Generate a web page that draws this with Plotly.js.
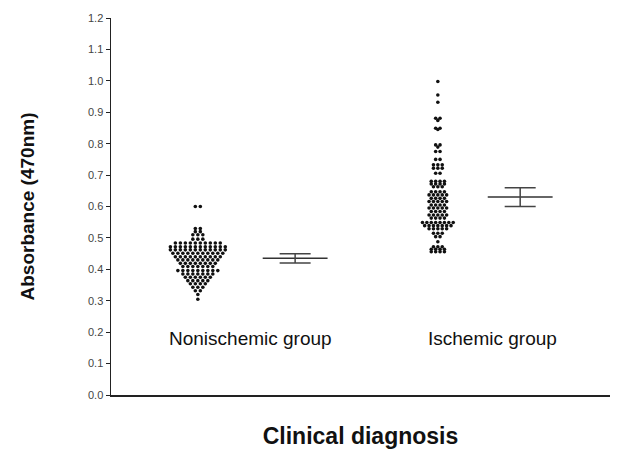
<!DOCTYPE html>
<html>
<head>
<meta charset="utf-8">
<script src="https://cdn.plot.ly/plotly-3.0.1.min.js"></script>
<style>
  html, body { margin: 0; padding: 0; background: #fff; }
  #chart { width: 642px; height: 456px; }
</style>
</head>
<body>
<div id="chart"></div>
<script>
// ---- Data ----
const groupNames = ['Nonischemic group', 'Ischemic group'];

const nonischemicValues = [
  0.600, 0.600,
  0.530, 0.530,
  0.520, 0.520,
  0.510, 0.510, 0.510,
  0.496, 0.496, 0.496,
  0.484, 0.484, 0.484, 0.484, 0.484, 0.484, 0.484, 0.484, 0.484, 0.484,
  0.472, 0.472, 0.472, 0.472, 0.472, 0.472, 0.472, 0.472, 0.472, 0.472, 0.472, 0.472,
  0.462, 0.462, 0.462, 0.462, 0.462, 0.462, 0.462, 0.462, 0.462, 0.462, 0.462, 0.462,
  0.451, 0.451, 0.451, 0.451, 0.451, 0.451, 0.451, 0.451, 0.451, 0.451, 0.451,
  0.440, 0.440, 0.440, 0.440, 0.440, 0.440, 0.440, 0.440, 0.440, 0.440,
  0.430, 0.430, 0.430, 0.430, 0.430, 0.430, 0.430, 0.430, 0.430,
  0.419, 0.419, 0.419, 0.419, 0.419, 0.419, 0.419, 0.419,
  0.409, 0.409, 0.409, 0.409, 0.409, 0.409, 0.409,
  0.396, 0.396, 0.396, 0.396, 0.396, 0.396, 0.396, 0.396, 0.396,
  0.385, 0.385, 0.385, 0.385, 0.385, 0.385, 0.385,
  0.375, 0.375, 0.375, 0.375, 0.375, 0.375,
  0.364, 0.364, 0.364, 0.364, 0.364,
  0.354, 0.354, 0.354, 0.354,
  0.343, 0.343, 0.343,
  0.332, 0.332,
  0.320,
  0.305
];

const ischemicValues = [
  0.998, 0.955, 0.932,
  0.881, 0.881, 0.874,
  0.849, 0.849, 0.845,
  0.796, 0.796, 0.789,
  0.775, 0.775,
  0.750, 0.750,
  0.733, 0.733, 0.733,
  0.722, 0.722, 0.722,
  0.706, 0.706,
  0.680, 0.680, 0.680, 0.680,
  0.672, 0.672, 0.672, 0.672,
  0.663, 0.663, 0.663,
  0.647, 0.647, 0.647, 0.647,
  0.637, 0.637, 0.637, 0.637, 0.637,
  0.626, 0.626, 0.626, 0.626,
  0.616, 0.616, 0.616, 0.616, 0.616,
  0.605, 0.605, 0.605, 0.605,
  0.595, 0.595, 0.595, 0.595, 0.595,
  0.584, 0.584, 0.584, 0.584,
  0.573, 0.573, 0.573, 0.573, 0.573,
  0.563, 0.563, 0.563, 0.563,
  0.549, 0.549, 0.549, 0.549, 0.549, 0.549, 0.549, 0.549,
  0.539, 0.539, 0.539, 0.539, 0.539, 0.539, 0.539,
  0.529, 0.529, 0.529, 0.529, 0.529,
  0.515, 0.515, 0.515,
  0.504, 0.504,
  0.488,
  0.472, 0.472, 0.472,
  0.464, 0.464, 0.464, 0.464,
  0.456, 0.456, 0.456, 0.456
];

const groupMeans = [0.435, 0.630];
const groupSE = [0.015, 0.030];

const yTickValues = [0.0, 0.1, 0.2, 0.3, 0.4, 0.5, 0.6, 0.7, 0.8, 0.9, 1.0, 1.1, 1.2];
const yTickLabels = ['0.0', '0.1', '0.2', '0.3', '0.4', '0.5', '0.6', '0.7', '0.8', '0.9', '1.0', '1.1', '1.2'];

// ---- Layout constants (positions / styles) ----
const clusterX = [1.74, 6.55];   // x centre of each dot column
const meanX = [3.69, 8.20];      // x centre of mean +/- SE marks
const meanHalfWidth = 0.65;
const dotSpacing = [0.10, 0.088]; // horizontal spacing of dots per group
const labelX = [2.79, 7.64];
const labelY = 0.18;
const FONT = 'Arial, "Liberation Sans", sans-serif';

// Build a simple dot-column layout: equal values spread side by side
function dotColumn(values, cx, spacing) {
  const counts = new Map();
  values.forEach(v => counts.set(v, (counts.get(v) || 0) + 1));
  const used = new Map();
  const xs = [], ys = [];
  values.forEach(v => {
    const n = counts.get(v);
    const i = used.get(v) || 0;
    used.set(v, i + 1);
    xs.push(cx + (i - (n - 1) / 2) * spacing);
    ys.push(v);
  });
  return {xs, ys};
}

const allValues = [nonischemicValues, ischemicValues];
const traces = [];

allValues.forEach((vals, g) => {
  const col = dotColumn(vals, clusterX[g], dotSpacing[g]);
  traces.push({
    type: 'scatter', mode: 'markers',
    name: groupNames[g],
    x: col.xs, y: col.ys,
    marker: {color: '#111', size: 3.6, symbol: 'circle'},
    hoverinfo: 'y', showlegend: false
  });
  traces.push({
    type: 'scatter', mode: 'lines',
    x: [meanX[g] - meanHalfWidth, meanX[g] + meanHalfWidth],
    y: [groupMeans[g], groupMeans[g]],
    line: {color: '#333', width: 1.5},
    hoverinfo: 'skip', showlegend: false
  });
  traces.push({
    type: 'scatter', mode: 'markers',
    x: [meanX[g]], y: [groupMeans[g]],
    marker: {opacity: 0, size: 1},
    error_y: {type: 'data', array: [groupSE[g]], visible: true,
              width: 15.5, thickness: 1.5, color: '#444'},
    hoverinfo: 'skip', showlegend: false
  });
});

const annotations = groupNames.map((name, g) => ({
  x: labelX[g], y: labelY, xref: 'x', yref: 'y',
  text: name, showarrow: false,
  font: {family: FONT, size: 19, color: '#111'},
  xanchor: 'center', yanchor: 'middle'
}));

const layout = {
  width: 642, height: 456,
  margin: {l: 111, r: 32, t: 18, b: 61},
  paper_bgcolor: '#fff', plot_bgcolor: '#fff',
  showlegend: false,
  font: {family: FONT, color: '#111'},
  xaxis: {
    range: [0, 10], showgrid: false, zeroline: false,
    showline: true, linecolor: '#222', linewidth: 2,
    showticklabels: false, ticks: '',
    fixedrange: true, automargin: false,
    title: {text: '<b>Clinical diagnosis</b>', font: {family: FONT, size: 23, color: '#111'}, standoff: 32}
  },
  yaxis: {
    range: [0, 1.2], showgrid: false, zeroline: false,
    showline: true, linecolor: '#222', linewidth: 1.5,
    ticks: 'outside', ticklen: 4, tickcolor: '#222', tickwidth: 1,
    tickvals: yTickValues, ticktext: yTickLabels,
    tickfont: {family: FONT, size: 11, color: '#444'},
    fixedrange: true, automargin: false,
    title: {text: '<b>Absorbance (470nm)</b>', font: {family: FONT, size: 19, color: '#111'}, standoff: 48}
  },
  annotations: annotations
};

Plotly.newPlot('chart', traces, layout, {displayModeBar: false, staticPlot: true});
</script>
</body>
</html>
